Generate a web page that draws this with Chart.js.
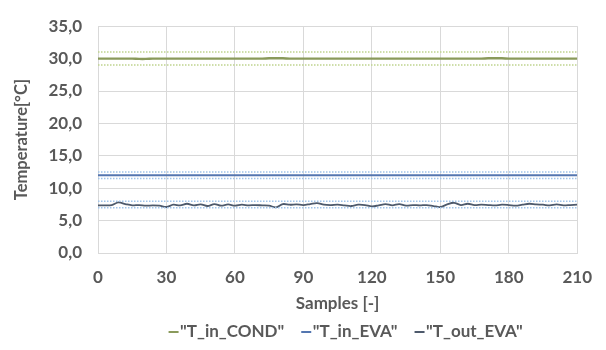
<!DOCTYPE html>
<html>
<head>
<meta charset="utf-8">
<script src="https://cdn.jsdelivr.net/npm/chart.js@4.4.1/dist/chart.umd.min.js"></script>
<style>
  html, body { margin: 0; padding: 0; background: #ffffff; }
  #wrap { width: 606px; height: 350px; position: relative; }
</style>
</head>
<body>
<div id="wrap"><canvas id="c" width="606" height="350"></canvas></div>
<script>
// ---- data ----
const samples = [0,3,6,9,12,15,18,21,24,27,30,33,36,39,42,45,48,51,54,57,60,63,66,69,72,75,78,81,84,87,90,93,96,99,102,105,108,111,114,117,120,123,126,129,132,135,138,141,144,147,150,153,156,159,162,165,168,171,174,177,180,183,186,189,192,195,198,201,204,207,210];
const tInCond = [30.0,30.0,30.0,30.0,30.0,30.0,29.95,29.95,30.0,30.0,30.0,30.0,30.0,30.0,30.0,30.0,30.0,30.0,30.0,30.0,30.0,30.0,30.0,30.0,30.0,30.05,30.05,30.05,30.0,30.0,30.0,30.0,30.0,30.0,30.0,30.0,30.0,30.0,30.0,30.0,30.0,30.0,30.0,30.0,30.0,30.0,30.0,30.0,30.0,30.0,30.0,30.0,30.0,30.0,30.0,30.0,30.0,30.05,30.05,30.05,30.0,30.0,30.0,30.0,30.0,30.0,30.0,30.0,30.0,30.0,30.0];
const tInEva = [12.0,12.0,12.0,12.0,12.0,12.0,12.0,12.0,12.0,12.0,12.0,12.0,12.0,12.0,12.0,12.0,12.0,12.0,12.0,12.0,12.0,12.0,12.0,12.0,12.0,12.0,12.0,12.0,12.0,12.0,12.0,12.0,12.0,12.0,12.0,12.0,12.0,12.0,12.0,12.0,12.0,12.0,12.0,12.0,12.0,12.0,12.0,12.0,12.0,12.0,12.0,12.0,12.0,12.0,12.0,12.0,12.0,12.0,12.0,12.0,12.0,12.0,12.0,12.0,12.0,12.0,12.0,12.0,12.0,12.0,12.0];
const tOutEva = [7.35,7.35,7.4,7.8,7.55,7.35,7.4,7.3,7.35,7.3,7.1,7.45,7.35,7.6,7.35,7.5,7.25,7.55,7.3,7.5,7.3,7.45,7.35,7.4,7.35,7.3,7.05,7.55,7.45,7.5,7.4,7.55,7.7,7.45,7.4,7.45,7.35,7.25,7.45,7.4,7.2,7.35,7.55,7.35,7.55,7.3,7.4,7.35,7.4,7.25,7.1,7.5,7.75,7.4,7.6,7.4,7.45,7.4,7.35,7.45,7.4,7.3,7.45,7.6,7.5,7.45,7.35,7.5,7.35,7.4,7.45];
// tolerance bands (upper / lower limits)
const condLimits = [31.0, 29.0];
const inEvaLimits = [12.5, 11.5];
const outEvaLimits = [8.0, 7.0];
const limitSpan = [0, 210];
const seriesNames = ['"T_in_COND"', '"T_in_EVA"', '"T_out_EVA"'];
const xTickValues = [0,30,60,90,120,150,180,210];
const yTickLabels = ['0,0','5,0','10,0','15,0','20,0','25,0','30,0','35,0'];

// ---- build datasets ----
const pts = (ys) => samples.map((x, i) => ({x: x, y: ys[i]}));
const lim = (v) => limitSpan.map(x => ({x: x, y: v}));

const COND = '#8a9a5b', CONDL = '#bfd38e';
const EVA = '#5476b0', EVAL = '#a0c4ea';
const OUT = '#4e5a6c', OUTL = '#a0c4ea';

function limitDs(v, color) {
  return { data: lim(v), borderColor: color, backgroundColor: color, borderWidth: 1.5,
           borderDash: [1.5, 1.5], pointRadius: 0, isLimit: true, tension: 0 };
}
const datasets = [
  limitDs(condLimits[0], CONDL), limitDs(condLimits[1], CONDL),
  limitDs(inEvaLimits[0], EVAL), limitDs(inEvaLimits[1], EVAL),
  limitDs(outEvaLimits[0], OUTL), limitDs(outEvaLimits[1], OUTL),
  { label: seriesNames[0], data: pts(tInCond), borderColor: COND, backgroundColor: COND, borderWidth: 2.4, pointRadius: 0, tension: 0.3 },
  { label: seriesNames[1], data: pts(tInEva), borderColor: EVA, backgroundColor: EVA, borderWidth: 1.8, pointRadius: 0, tension: 0.3 },
  { label: seriesNames[2], data: pts(tOutEva), borderColor: OUT, backgroundColor: OUT, borderWidth: 1.8, pointRadius: 0, tension: 0.35 }
];

const FONT = "Lato, 'Open Sans', 'DejaVu Sans', sans-serif";
const FSIZE = 17;
const TXT = '#595959';
const GRID = '#d9d9d9';

// legend drawn below the axis title, with short line symbols
const bottomLegend = {
  id: 'bottomLegend',
  afterDraw(chart) {
    const ctx = chart.ctx;
    const items = chart.data.datasets.filter(d => !d.isLimit);
    const symW = 10, symGap = 1.5, itemGap = 17, cy = 332;
    ctx.save();
    ctx.font = 'bold ' + FSIZE + 'px ' + FONT;
    ctx.textBaseline = 'middle';
    ctx.textAlign = 'left';
    const widths = items.map(d => symW + symGap + ctx.measureText(d.label).width);
    const total = widths.reduce((a, b) => a + b, 0) + itemGap * (items.length - 1);
    const center = (chart.chartArea.left + chart.chartArea.right) / 2 + 8;
    let x = center - total / 2;
    items.forEach((d, i) => {
      ctx.strokeStyle = d.borderColor;
      ctx.lineWidth = 2;
      ctx.beginPath();
      ctx.moveTo(x, cy);
      ctx.lineTo(x + symW, cy);
      ctx.stroke();
      ctx.fillStyle = TXT;
      ctx.fillText(d.label, x + symW + symGap, cy);
      x += widths[i] + itemGap;
    });
    ctx.restore();
  }
};

new Chart(document.getElementById('c'), {
  type: 'line',
  data: { datasets: datasets },
  plugins: [bottomLegend],
  options: {
    responsive: false,
    animation: false,
    layout: { padding: { top: 18, right: 24, bottom: 0, left: 0 } },
    plugins: {
      tooltip: { enabled: false },
      legend: { display: false }
    },
    scales: {
      x: {
        type: 'linear', min: 0, max: 210,
        afterBuildTicks: (s) => { s.ticks = xTickValues.map(v => ({value: v})); },
        afterFit: (s) => { s.height = 97; },
        grid: { color: GRID, drawTicks: false, lineWidth: 1 },
        border: { color: GRID },
        ticks: { padding: 14, color: TXT, font: { family: FONT, size: FSIZE, weight: 'bold' }, maxRotation: 0 },
        title: { display: true, text: 'Samples [-]', color: TXT, padding: { top: 0, bottom: 36 },
                 font: { family: FONT, size: FSIZE, weight: 'bold' } }
      },
      y: {
        min: 0, max: 35,
        afterBuildTicks: (s) => { s.ticks = yTickLabels.map((t, i) => ({value: i * 5})); },
        afterFit: (s) => { s.width = 98; },
        grid: { color: GRID, drawTicks: false, lineWidth: 1 },
        border: { color: GRID },
        ticks: { padding: 16, color: TXT, font: { family: FONT, size: FSIZE, weight: 'bold' },
                 callback: (v) => yTickLabels[Math.round(v / 5)] },
        title: { display: true, text: 'Temperature[°C]', color: TXT, padding: { top: 12, bottom: 0 },
                 font: { family: FONT, size: 16.5, weight: 'bold' } }
      }
    }
  }
});
</script>
</body>
</html>
